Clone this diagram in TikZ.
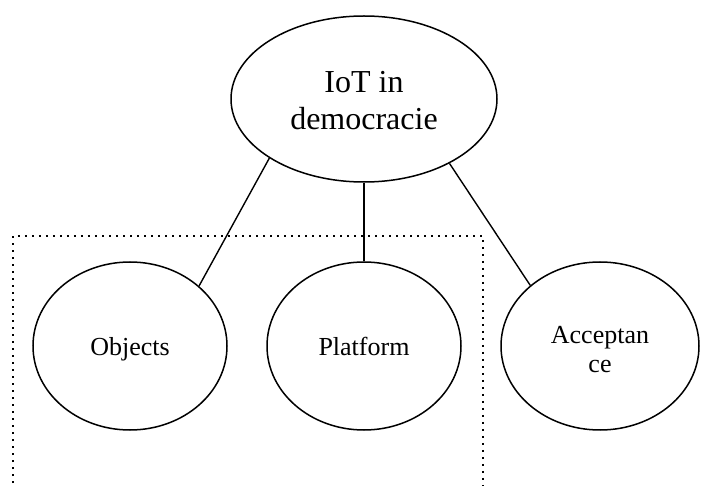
\documentclass[tikz,border=0pt]{standalone}
\usepackage{fontspec}
\setmainfont{Liberation Serif}
\usetikzlibrary{shapes.geometric}

\begin{document}
\begin{tikzpicture}[x=1pt,y=-1pt,
  bubble/.style={draw,ellipse,line width=1.5pt,inner sep=0pt,align=center,
    minimum width=194pt,minimum height=168pt,font=\fontsize{26}{29}\selectfont},
  oneline/.style={text height=20pt,text depth=0pt},
  link/.style={line width=1.4pt},
  frame/.style={line width=1.7pt,dash pattern=on 1.7pt off 5.3pt}]

\useasboundingbox (0,0) rectangle (702,486);

% Dotted frame, open at the bottom
\draw[frame] (13,490) -- (13,236) -- (483,236) -- (483,490);

% Main topic
\node[bubble,minimum width=266pt,minimum height=166pt,font=\fontsize{32}{37}\selectfont]
  (iot) at (364,99) {\rule{0pt}{25pt}IoT in\\democracie};

% Sub topics
\node[bubble,oneline] (objects) at (130,346) {Objects};
\node[bubble,oneline] (platform) at (364,346) {Platform};
\node[bubble,minimum width=198pt] (acceptance) at (600,346) {\rule{0pt}{24pt}Acceptan\\ce};

% Links
\draw[link] (iot.212) -- (objects.41);
\draw[link] (iot.270) -- (platform.90);
\draw[link] (iot.323) -- (acceptance.139);

\end{tikzpicture}
\end{document}
